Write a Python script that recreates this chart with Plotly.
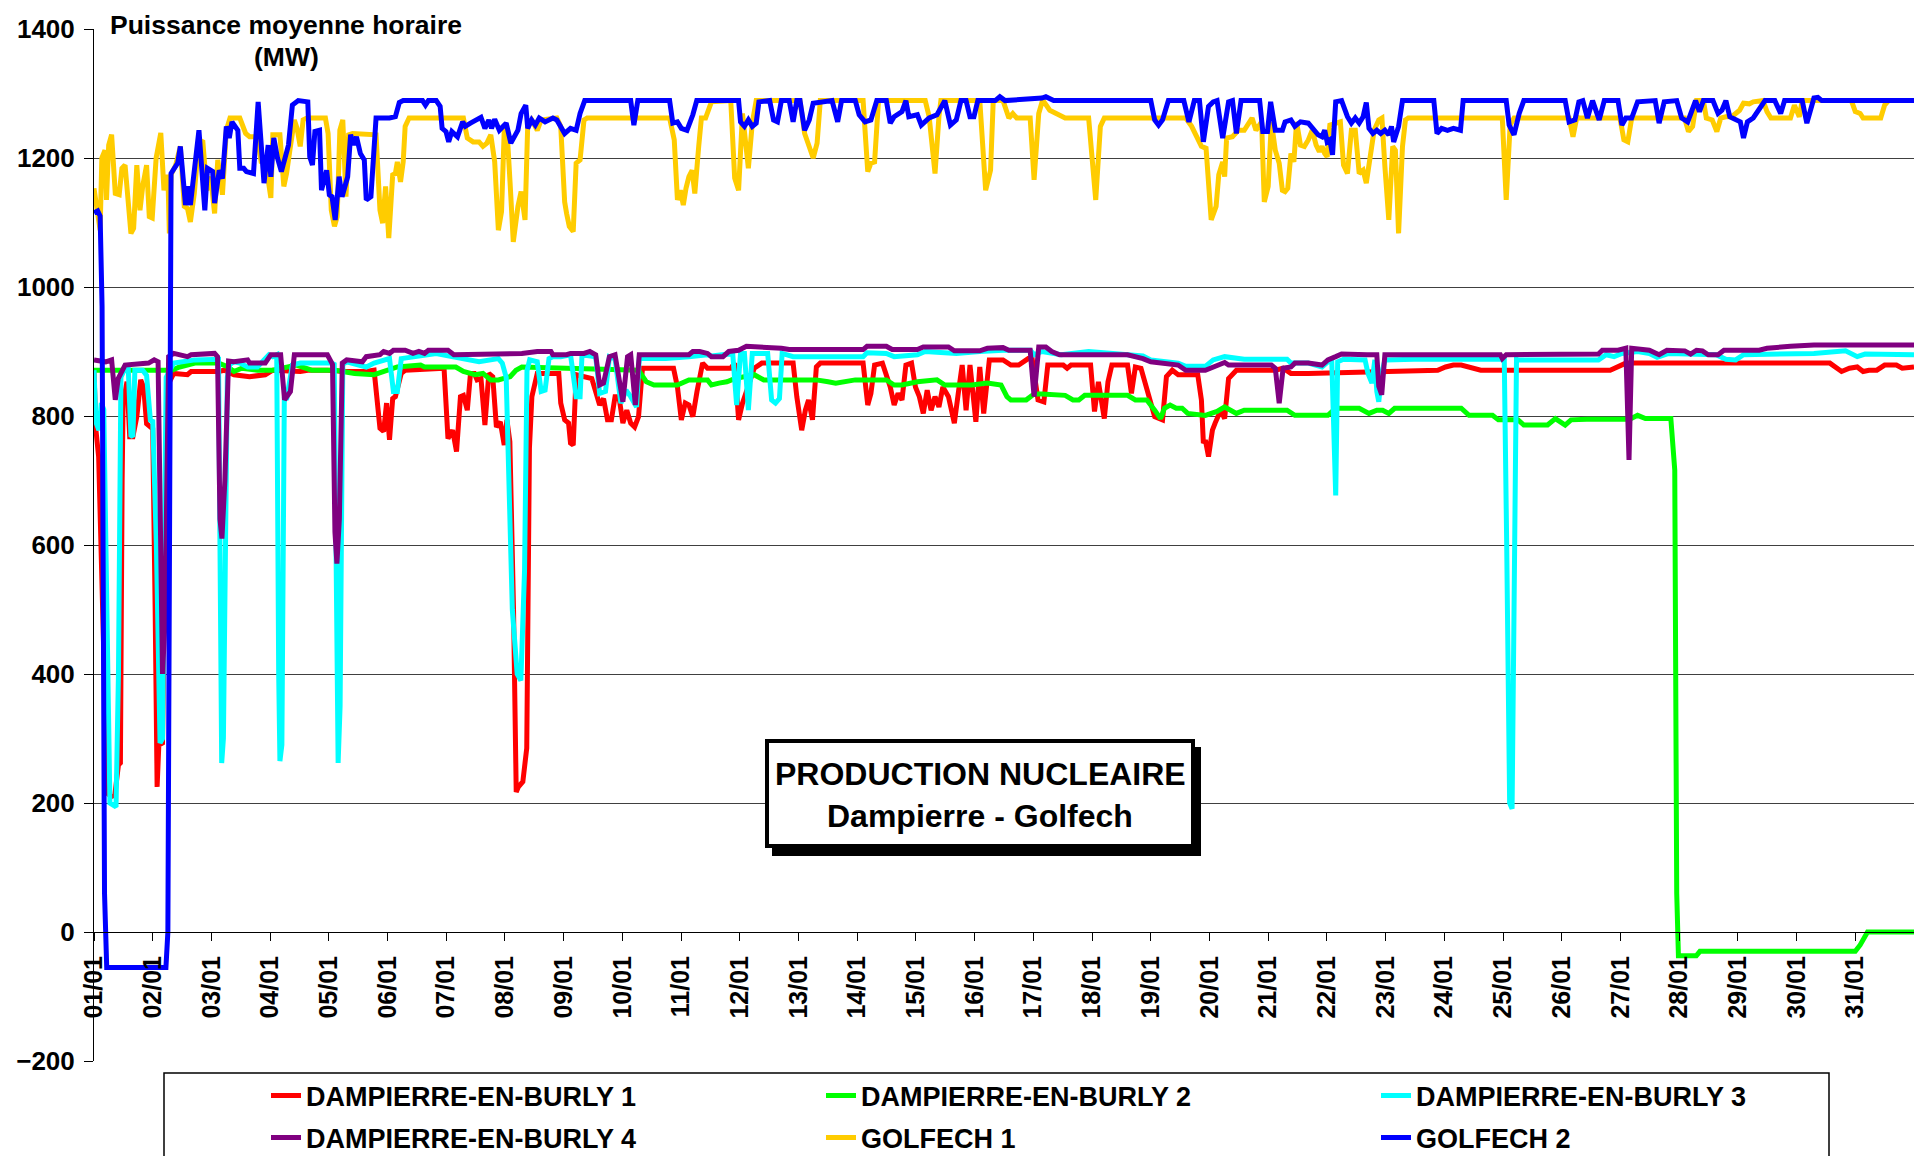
import plotly.graph_objects as go

# ---------------- data (hours since 01/01 00:00, MW) ----------------
day_labels = ["%02d/01" % d for d in range(1, 32)]
day_hours = [24 * i for i in range(31)]

d1_h = [0, 0.8, 1.9, 3.5, 5.5, 7.0, 8.5, 10.0, 10.8, 11.5, 11.9, 13.5, 14.6, 15.9, 17.5, 19.1, 20.3, 21.5, 23.1, 24.0,
        25.0, 25.8, 26.5, 28.0, 29.5, 30.5, 32.6, 38.2, 39.7, 50.9, 53.3, 57.2, 63.6, 70.0, 73.1, 84.3, 87.4, 95.4, 103.3,
        111.3, 114.5, 115.7, 116.9, 118.4, 119.6, 120.8, 122.1, 123.2, 125.6, 127.2, 143.1, 144.7, 146.6, 148.2, 149.8,
        151.0, 152.6, 153.9, 155.5, 156.6, 158.2, 159.8, 161.4, 163.0, 164.5, 166.1, 167.7, 168.8, 170.0, 171.5, 172.6,
        173.5, 175.3, 176.9, 178.0, 179.0, 181.2, 190.0, 190.8, 192.4, 194.0, 194.8, 195.9, 197.1, 200.3, 203.5, 206.7,
        208.3, 209.9, 211.5, 213.0, 214.6, 216.2, 217.8, 219.4, 221.0, 222.6, 224.2, 236.9, 238.5, 240.1, 241.7, 243.2,
        244.8, 246.5, 248.8, 250.8, 260.3, 261.9, 263.5, 265.1, 267.5, 269.9, 273.0, 285.8, 287.3, 289.3, 290.8, 292.1,
        293.7, 295.3, 296.9, 314.4, 316.3, 317.6, 319.1, 322.3, 325.5, 327.1, 328.7, 330.3, 331.9, 334.2, 335.8, 337.4,
        339.0, 340.6, 342.2, 343.8, 345.4, 347.0, 349.3, 351.7, 353.3, 354.9, 356.5, 358.1, 360.5, 362.1, 363.7, 366.0,
        371.6, 374.8, 378.0, 381.9, 383.5, 385.9, 388.3, 389.9, 396.2, 397.8, 399.4, 407.4, 409.0, 410.6, 413.0, 414.5,
        416.1, 422.5, 424.1, 425.7, 428.0, 429.6, 431.2, 433.6, 436.8, 438.4, 440.8, 443.2, 451.2, 452.7, 453.5, 454.3,
        455.6, 457.2, 458.3, 460.6, 462.2, 463.8, 467.0, 482.9, 486.1, 489.3, 496.4, 542.9, 549.3, 552.5, 555.7, 558.9,
        562.1, 566.9, 619.8, 623.0, 626.2, 709.6, 714.4, 717.6, 720.8, 723.2, 725.6, 728.8, 732.0, 736.8, 739.2, 744]
d1_mw = [869, 778, 737, 500, 215, 210, 212, 259, 262, 700, 820, 853, 768, 768, 799, 856, 845, 788, 783, 780,
         500, 225, 290, 293, 700, 850, 866, 864, 869, 869, 871, 864, 861, 864, 871, 869, 871, 871, 869,
         869, 871, 820, 781, 776, 820, 763, 827, 830, 866, 871, 874, 765, 778, 745, 830,
         832, 809, 866, 866, 856, 858, 786, 866, 861, 783, 791, 755, 794, 760, 500, 217,
         225, 233, 285, 750, 830, 866, 866, 820, 794, 789, 758, 755, 864, 861, 858, 817,
         827, 794, 794, 830, 830, 789, 809, 789, 783, 799, 874, 874, 845, 794, 820, 817,
         799, 838, 882, 874, 874, 882, 794, 820, 845, 874, 882, 882, 830, 778, 809, 825,
         794, 876, 882, 882, 817, 835, 879, 882, 845, 817, 835, 825, 879, 882, 845, 830,
         804, 840, 809, 830, 814, 845, 830, 789, 835, 879, 809, 879, 791, 876, 804, 887,
         887, 879, 879, 889, 889, 825, 822, 879, 879, 874, 879, 879, 807, 853, 796, 853,
         879, 879, 835, 876, 874, 851, 827, 799, 794, 861, 871, 864, 864, 825, 758, 763,
         737, 778, 789, 809, 796, 858, 871, 871, 874, 866, 866, 871, 871, 876, 879, 879,
         876, 871, 871, 876, 882, 882, 869, 874, 876, 869, 871, 871, 879, 879, 874, 876]

d2_h = [0, 31.8, 35.0, 41.3, 50.9, 54.8, 57.2, 60.4, 66.8, 73.1, 82.7, 89.0, 98.6, 106.5, 114.5, 124.0, 133.5, 135.1,
        147.9, 151.0, 155.8, 159.0, 162.2, 165.3, 170.1, 172.5, 174.9, 222.6, 225.8, 228.9, 238.5, 243.2, 250.8, 252.4,
        255.5, 258.7, 261.9, 269.9, 273.8, 295.3, 300.1, 303.2, 311.2, 323.9, 327.1, 330.3, 336.6, 344.6, 347.8, 358.9,
        365.2, 370.8, 373.2, 374.8, 381.1, 384.3, 387.5, 397.0, 400.2, 402.6, 405.0, 422.5, 425.7, 430.4, 433.6, 436.0,
        437.6, 439.9, 442.4, 444.8, 447.1, 454.3, 459.1, 462.2, 464.6, 467.0, 470.2, 487.7, 490.9, 504.4, 507.6, 517.2,
        521.2, 524.4, 526.8, 529.3, 531.7, 558.9, 562.1, 571.7, 574.1, 582.1, 584.5, 594.2, 597.4, 599.8, 601.4, 603.8,
        610.2, 627.8, 631.0, 634.2, 644.6, 646.2, 647.0, 647.7, 655.0, 656.5, 720.0, 722.0, 725.0, 744]
d2_mw = [871, 871, 876, 882, 882, 876, 869, 874, 871, 871, 879, 871, 871, 866, 864, 876, 879, 876,
         876, 869, 864, 866, 856, 856, 861, 871, 876, 871, 853, 848, 848, 856, 856, 848,
         851, 853, 858, 864, 856, 856, 853, 851, 856, 856, 848, 848, 853, 856, 848, 848,
         851, 848, 830, 825, 825, 834, 834, 832, 825, 825, 832, 832, 825, 825, 809, 796,
         812, 817, 812, 812, 804, 801, 807, 814, 809, 804, 809, 809, 801, 801, 812, 812,
         804, 809, 809, 804, 812, 812, 801, 801, 794, 794, 786, 786, 796, 791, 786, 794,
         795, 795, 801, 796, 796, 716, 60, -37, -37, -30, -30, -20, 0, 0]

d3_h = [0, 0.8, 2.0, 3.0, 4.0, 5.5, 6.5, 9.0, 10.0, 11.0, 12.7, 14.0, 15.1, 15.9, 16.7, 19.9, 21.5, 23.1, 24.0, 25.5,
        27.0, 28.0, 29.5, 31.0, 32.6, 41.3, 50.9, 51.5, 52.2, 52.9, 54.5, 55.5, 57.2, 59.6, 62.8, 66.8, 71.5, 73.1, 74.7,
        75.5, 76.0, 76.8, 77.8, 78.7, 81.1, 84.3, 97.0, 98.2, 99.0, 99.8, 100.6, 101.7, 103.3, 111.3, 114.5, 120.8, 122.4,
        124.0, 125.6, 130.4, 139.9, 146.3, 157.4, 165.3, 166.9, 168.5, 171.0, 173.0, 174.5, 176.0, 177.0, 178.1, 181.2,
        182.8, 184.4, 186.0, 187.6, 190.8, 193.2, 194.8, 197.1, 198.7, 199.5, 205.1, 206.7, 209.1, 210.7, 213.0, 215.4,
        217.5, 219.4, 221.8, 222.9, 233.7, 243.2, 250.8, 252.4, 257.1, 261.1, 262.7, 264.3, 265.9, 267.5, 269.1, 275.4,
        277.0, 278.6, 280.2, 281.3, 285.8, 314.4, 316.0, 323.9, 327.1, 336.6, 339.8, 349.3, 352.5, 362.1, 371.6, 382.7,
        384.3, 387.5, 395.4, 406.6, 412.9, 422.5, 428.8, 432.0, 443.2, 446.3, 454.3, 457.5, 462.2, 470.2, 487.7, 489.3,
        496.4, 502.0, 504.4, 506.0, 507.6, 508.4, 510.8, 519.6, 520.8, 522.4, 523.6, 524.4, 525.2, 526.4, 527.7, 539.7,
        558.9, 574.9, 576.5, 577.5, 578.7, 579.7, 580.5, 581.5, 582.1, 615.0, 618.2, 621.4, 624.6, 631.0, 635.8, 639.0,
        643.8, 663.1, 667.1, 671.1, 674.3, 703.1, 716.0, 720.8, 724.0, 744]
d3_mw = [871, 790, 778, 820, 810, 400, 200, 194, 400, 860, 874, 874, 770, 768, 871, 871, 863, 791, 794, 600,
         293, 300, 860, 871, 882, 887, 888, 600, 262, 300, 860, 880, 884, 882, 876, 876, 895, 892, 895,
         400, 265, 290, 830, 825, 879, 882, 882, 880, 500, 262, 350, 880, 884, 876, 882, 889, 838,
         838, 889, 892, 897, 892, 884, 889, 882, 860, 500, 400, 390, 560, 870, 887, 884,
         838, 840, 889, 892, 892, 895, 895, 830, 830, 895, 892, 835, 838, 892, 889, 820,
         840, 830, 814, 889, 889, 892, 895, 893, 895, 897, 817, 897, 897, 809, 897, 897,
         825, 820, 827, 897, 892, 892, 898, 897, 892, 895, 900, 898, 897, 900, 902, 902,
         895, 900, 895, 900, 898, 895, 893, 887, 882, 877, 877, 887, 892, 888, 888, 882,
         882, 876, 884, 884, 677, 884, 888, 887, 866, 851, 887, 838, 822, 866, 887, 888,
         887, 888, 888, 600, 200, 191, 500, 888, 887, 887, 895, 892, 897, 900, 897, 891,
         897, 895, 888, 887, 895, 897, 901, 892, 896, 895]

d4_h = [0, 4.8, 7.2, 8.7, 9.9, 12.7, 22.3, 24.6, 26.2, 27.3, 28.0, 29.0, 30.5, 32.6, 38.2, 39.7, 49.3, 50.5, 51.5, 52.3,
        53.5, 55.0, 57.2, 62.8, 63.6, 70.0, 72.3, 76.3, 77.9, 80.3, 81.9, 95.4, 97.5, 98.5, 99.3, 100.3, 101.5, 103.3,
        109.7, 111.3, 116.9, 118.4, 120.8, 122.4, 127.2, 130.4, 132.8, 135.1, 136.7, 144.7, 147.1, 174.9, 181.2, 186.8,
        187.6, 193.2, 194.8, 200.3, 202.7, 205.1, 206.7, 208.3, 210.7, 213.0, 216.2, 218.1, 219.4, 221.3, 222.9, 243.2,
        244.8, 247.6, 250.8, 252.4, 257.1, 259.5, 263.5, 266.7, 276.2, 281.0, 284.2, 314.4, 316.0, 323.9, 326.3, 336.6,
        339.0, 349.3, 351.7, 362.1, 365.2, 371.6, 374.0, 382.7, 384.3, 386.2, 389.1, 391.5, 394.7, 422.5, 428.8, 432.0,
        443.2, 446.3, 454.3, 457.5, 462.2, 463.8, 481.3, 482.9, 484.5, 486.1, 489.3, 490.9, 496.4, 502.0, 504.4, 507.6,
        510.0, 520.4, 524.4, 525.2, 526.4, 527.7, 552.5, 574.9, 575.7, 577.3, 615.0, 616.6, 623.0, 626.2, 627.5, 628.6,
        635.8, 639.8, 643.0, 650.3, 652.7, 655.1, 657.5, 659.9, 663.9, 666.3, 680.7, 683.9, 693.5, 703.1, 744]
d4_mw = [887, 884, 887, 825, 858, 879, 882, 887, 884, 600, 400, 480, 892, 897, 892, 895, 897, 892, 640, 610,
         700, 885, 884, 887, 882, 882, 895, 895, 825, 838, 895, 895, 880, 620, 571, 640, 882, 887,
         884, 892, 895, 900, 897, 902, 902, 897, 900, 897, 902, 902, 895, 897, 900, 900,
         895, 895, 897, 897, 900, 895, 848, 851, 892, 895, 822, 892, 895, 817, 895, 895,
         900, 900, 897, 892, 892, 900, 902, 908, 907, 905, 903, 903, 908, 908, 903, 903,
         907, 907, 901, 901, 905, 906, 902, 902, 830, 907, 907, 900, 895, 895, 889, 884,
         879, 871, 871, 876, 883, 879, 879, 874, 820, 874, 876, 882, 882, 879, 887, 892,
         896, 895, 895, 846, 833, 895, 896, 895, 889, 895, 896, 902, 902, 905, 732, 905,
         902, 895, 902, 901, 896, 902, 901, 895, 895, 902, 902, 905, 908, 910, 910]

g1_h = [0, 1.6, 2.5, 3.2, 4.5, 5.1, 6.0, 7.2, 8.7, 10.3, 11.4, 12.7, 13.5, 15.1, 16.2, 17.5, 18.8, 19.9, 21.5, 22.6,
        23.8, 25.4, 27.3, 28.6, 30.2, 30.8, 31.5, 33.4, 35.3, 36.9, 38.2, 39.4, 41.0, 42.9, 44.5, 46.1, 47.7, 49.3, 50.6,
        52.5, 54.1, 55.6, 59.6, 62.0, 63.6, 66.0, 67.1, 68.4, 70.0, 71.2, 72.3, 73.1, 76.0, 77.6, 78.7, 80.3, 81.9, 83.0,
        84.3, 85.5, 87.1, 94.6, 95.7, 97.0, 98.3, 99.4, 100.5, 101.7, 103.0, 104.1, 105.7, 115.3, 116.9, 118.0, 119.2,
        120.5, 122.1, 123.2, 124.0, 125.3, 126.4, 127.2, 128.8, 151.0, 152.6, 155.0, 157.4, 159.0, 160.6, 162.2, 163.8,
        165.3, 166.6, 167.7, 168.8, 170.1, 171.4, 173.3, 174.6, 176.2, 177.3, 178.9, 181.2, 182.8, 189.2, 190.8, 192.4,
        193.2, 194.3, 195.9, 197.1, 198.7, 200.3, 201.6, 235.3, 237.2, 238.5, 239.7, 240.9, 242.0, 243.2, 244.5, 245.6,
        247.2, 248.3, 250.0, 252.4, 260.3, 261.9, 263.5, 265.1, 267.5, 269.1, 270.7, 288.6, 290.5, 294.0, 295.6, 296.9,
        314.4, 316.3, 317.6, 319.1, 320.7, 339.8, 341.4, 343.8, 345.4, 346.2, 362.1, 364.5, 366.5, 367.6, 371.6, 374.0,
        375.6, 377.2, 382.7, 384.3, 386.2, 387.8, 390.7, 393.9, 397.0, 406.6, 408.2, 409.5, 411.4, 413.0, 446.3, 448.7,
        452.7, 454.6, 456.7, 458.7, 459.8, 461.4, 462.2, 463.0, 465.4, 467.8, 470.2, 473.4, 475.0, 477.3, 478.4, 480.0,
        481.3, 482.9, 484.5, 485.8, 486.9, 488.0, 489.3, 490.5, 491.6, 493.2, 494.8, 496.4, 498.0, 499.6, 500.9, 502.0,
        503.1, 504.1, 505.2, 507.6, 509.5, 510.8, 512.4, 514.0, 515.6, 517.2, 518.8, 520.1, 521.7, 523.3, 525.2, 526.5,
        527.7, 529.3, 530.9, 532.0, 533.3, 534.9, 536.1, 537.3, 575.7, 577.3, 578.9, 580.5, 603.0, 604.6, 606.2, 607.0,
        623.8, 625.4, 627.0, 628.6, 650.2, 651.8, 653.5, 655.1, 657.9, 659.1, 661.5, 663.4, 665.0, 667.1, 669.5, 671.1,
        672.7, 674.3, 676.7, 678.3, 682.3, 683.9, 685.5, 693.5, 695.1, 697.1, 698.3, 718.4, 720.0, 722.0, 723.2, 730.4,
        732.0, 733.6, 744]
g1_mw = [1153, 1114, 1088, 1200, 1212, 1135, 1220, 1236, 1145, 1143, 1184, 1189, 1156, 1083, 1091, 1189, 1119, 1156, 1189, 1109,
         1107, 1200, 1239, 1150, 1174, 1083, 1174, 1189, 1218, 1125, 1122, 1101, 1145, 1228, 1225, 1150, 1171, 1114, 1197,
         1143, 1243, 1262, 1262, 1238, 1233, 1233, 1225, 1192, 1197, 1166, 1138, 1236, 1236, 1156, 1176, 1218, 1259, 1246,
         1218, 1259, 1262, 1262, 1238, 1119, 1094, 1109, 1243, 1259, 1140, 1236, 1238, 1236, 1119, 1099, 1156,
         1076, 1174, 1176, 1194, 1163, 1194, 1249, 1262, 1262, 1231, 1225, 1225, 1218, 1223, 1236, 1194,
         1088, 1117, 1243, 1246, 1161, 1070, 1125, 1148, 1104, 1251, 1259, 1243, 1259, 1262, 1249, 1132,
         1114, 1094, 1086, 1192, 1197, 1259, 1262, 1262, 1228, 1135, 1150, 1127, 1153, 1171, 1181, 1145,
         1218, 1262, 1262, 1287, 1289, 1169, 1150, 1269, 1184, 1254, 1289, 1289, 1238, 1200, 1223, 1289,
         1289, 1179, 1192, 1194, 1289, 1289, 1264, 1176, 1264, 1289, 1289, 1150, 1181, 1289, 1289, 1262,
         1269, 1262, 1262, 1166, 1269, 1290, 1274, 1267, 1262, 1262, 1202, 1135, 1249, 1262, 1262, 1249,
         1218, 1215, 1104, 1125, 1174, 1194, 1171, 1231, 1233, 1243, 1243, 1262, 1243, 1256, 1132, 1156,
         1256, 1212, 1192, 1150, 1148, 1153, 1207, 1194, 1256, 1220, 1218, 1228, 1243, 1220, 1210, 1218,
         1207, 1202, 1251, 1254, 1256, 1189, 1176, 1243, 1243, 1176, 1181, 1161, 1202, 1243, 1259, 1262,
         1187, 1104, 1218, 1212, 1083, 1218, 1259, 1262, 1262, 1135, 1251, 1262, 1262, 1233, 1264, 1262,
         1262, 1228, 1225, 1262, 1262, 1241, 1249, 1289, 1289, 1262, 1259, 1241, 1262, 1264, 1264, 1269,
         1274, 1285, 1284, 1287, 1289, 1272, 1262, 1262, 1282, 1264, 1289, 1289, 1272, 1269, 1262, 1262,
         1282, 1289, 1289]

g2_h = [0, 1.5, 2.5, 3.0, 3.3, 4.3, 5.2, 29.4, 30.2, 31.5, 34.2, 35.3, 37.4, 38.5, 39.4, 42.9, 45.3, 46.4, 48.5, 49.3,
        51.2, 52.5, 54.1, 55.3, 56.4, 58.8, 59.6, 61.2, 62.3, 65.2, 67.1, 69.5, 71.2, 72.3, 73.5, 75.0, 76.6, 79.5, 81.1,
        83.5, 87.4, 88.2, 89.3, 90.3, 92.2, 93.0, 95.1, 96.2, 97.3, 98.6, 100.2, 101.4, 103.7, 104.9, 106.2, 107.3, 108.9,
        110.5, 111.3, 113.2, 115.3, 120.8, 123.2, 124.8, 126.4, 134.3, 135.5, 136.7, 139.9, 141.5, 142.3, 143.9, 145.0,
        146.3, 148.6, 150.7, 151.8, 153.9, 156.6, 158.2, 159.8, 161.4, 162.5, 163.8, 165.7, 168.5, 170.4, 173.3, 174.6,
        176.5, 177.3, 178.9, 180.4, 182.0, 184.4, 187.6, 189.2, 192.4, 194.8, 197.1, 198.7, 200.6, 219.4, 220.7, 222.3,
        235.3, 236.6, 238.5, 240.1, 242.4, 244.8, 246.4, 263.5, 264.3, 265.9, 267.5, 269.1, 270.7, 271.8, 276.2, 277.8,
        279.4, 281.0, 284.2, 285.8, 287.3, 288.6, 290.5, 292.4, 294.0, 301.7, 304.0, 305.6, 311.2, 312.8, 315.2, 317.6,
        320.0, 323.9, 325.5, 327.1, 330.3, 331.9, 333.1, 336.6, 338.2, 341.4, 344.6, 347.8, 350.1, 352.5, 354.4, 356.5,
        358.1, 359.7, 361.3, 368.4, 370.3, 372.4, 379.6, 387.5, 389.1, 392.3, 432.0, 433.6, 435.2, 436.8, 439.2, 445.5,
        447.6, 449.8, 451.9, 453.5, 455.6, 457.5, 459.1, 461.4, 463.8, 465.4, 467.0, 468.9, 476.5, 477.8, 479.7, 481.0,
        482.9, 485.8, 486.9, 489.3, 490.9, 493.2, 496.4, 498.0, 500.4, 502.0, 503.1, 504.1, 505.2, 506.3, 507.6, 510.0,
        512.4, 514.0, 515.6, 517.2, 518.8, 520.1, 521.2, 522.8, 524.4, 526.0, 527.7, 529.3, 530.4, 531.3, 533.3, 534.9,
        547.7, 549.0, 550.9, 553.3, 555.7, 558.6, 559.7, 577.3, 578.5, 580.5, 582.6, 584.5, 601.4, 603.0, 605.4, 607.0,
        608.6, 610.5, 612.6, 615.3, 617.4, 623.0, 624.6, 626.2, 628.6, 631.0, 638.2, 639.8, 641.9, 647.0, 649.0, 651.5,
        654.7, 656.3, 657.9, 661.8, 663.9, 665.5, 667.1, 668.7, 671.1, 673.0, 674.3, 675.9, 678.3, 680.7, 683.1, 687.1,
        689.5, 691.1, 698.3, 700.2, 703.1, 704.7, 706.3, 744]
g2_mw = [1115, 1118, 1110, 1000, 970, 60, -55, -55, 0, 1176, 1192, 1218, 1127, 1156, 1127, 1243, 1119, 1184, 1179, 1130,
         1181, 1168, 1249, 1231, 1256, 1243, 1184, 1184, 1179, 1176, 1287, 1161, 1220, 1171, 1231, 1200, 1179, 1220, 1282,
         1289, 1287, 1202, 1189, 1241, 1243, 1150, 1181, 1143, 1140, 1104, 1171, 1140, 1171, 1236, 1220, 1233, 1207,
         1197, 1135, 1140, 1262, 1262, 1264, 1286, 1289, 1289, 1282, 1289, 1289, 1280, 1246, 1241, 1225,
         1241, 1233, 1256, 1249, 1254, 1259, 1263, 1246, 1259, 1246, 1260, 1243, 1254, 1223, 1243, 1269,
         1282, 1246, 1259, 1251, 1262, 1256, 1262, 1259, 1238, 1246, 1243, 1269, 1289, 1289, 1251, 1289,
         1289, 1254, 1256, 1246, 1243, 1267, 1289, 1289, 1256, 1249, 1259, 1249, 1254, 1287, 1289, 1259,
         1256, 1289, 1289, 1256, 1289, 1289, 1243, 1259, 1285, 1289, 1256, 1289, 1289, 1267, 1256, 1259,
         1289, 1289, 1254, 1264, 1272, 1289, 1264, 1267, 1251, 1262, 1267, 1289, 1251, 1259, 1289, 1289,
         1264, 1264, 1289, 1289, 1295, 1289, 1290, 1293, 1295, 1289, 1289, 1259, 1251, 1259, 1289, 1289,
         1256, 1289, 1289, 1225, 1280, 1287, 1289, 1231, 1287, 1289, 1238, 1289, 1289, 1241, 1241, 1287,
         1243, 1243, 1256, 1259, 1249, 1256, 1254, 1246, 1236, 1233, 1243, 1225, 1228, 1205, 1287, 1289,
         1264, 1254, 1262, 1254, 1264, 1286, 1246, 1238, 1243, 1238, 1243, 1236, 1249, 1225, 1249, 1289,
         1289, 1238, 1246, 1243, 1246, 1243, 1289, 1289, 1251, 1236, 1269, 1289, 1289, 1256, 1259, 1287,
         1289, 1262, 1289, 1259, 1289, 1289, 1251, 1262, 1262, 1287, 1289, 1254, 1287, 1289, 1262, 1256,
         1289, 1272, 1289, 1289, 1269, 1274, 1289, 1264, 1259, 1256, 1231, 1256, 1262, 1274, 1289, 1289,
         1269, 1289, 1289, 1254, 1293, 1294, 1289, 1289]

series = [
    ("DAMPIERRE-EN-BURLY 1", d1_h, d1_mw, "#FF0000", "legend"),
    ("DAMPIERRE-EN-BURLY 2", d2_h, d2_mw, "#00FF00", "legend"),
    ("DAMPIERRE-EN-BURLY 3", d3_h, d3_mw, "#00FFFF", "legend"),
    ("DAMPIERRE-EN-BURLY 4", d4_h, d4_mw, "#800080", "legend2"),
    ("GOLFECH 1", g1_h, g1_mw, "#FFCC00", "legend2"),
    ("GOLFECH 2", g2_h, g2_mw, "#0000FF", "legend2"),
]

FONT = "Liberation Sans, Arial, sans-serif"

fig = go.Figure()
for name, xs, ys, col, lg in series:
    fig.add_trace(go.Scatter(x=xs, y=ys, mode="lines", name=name, legend=lg,
                             line=dict(color=col, width=5, shape="linear")))

# page pixel helpers (page has an 8px body margin; plot area page x 94..1914, y 29..1061)
def px_x(p):
    return (p - 94) / 1820.0

def px_y(p):
    return (1061 - p) / 1032.0

legend_common = dict(orientation="h", entrywidth=510, entrywidthmode="pixels",
                     font=dict(family=FONT, size=27, color="black", weight="bold"),
                     bgcolor="rgba(0,0,0,0)", borderwidth=0, xanchor="left", yanchor="middle",
                     itemwidth=30, traceorder="normal")

fig.update_layout(
    width=1906, height=1148,
    margin=dict(l=86, r=0, t=21, b=95, autoexpand=False),
    paper_bgcolor="white", plot_bgcolor="white",
    font=dict(family=FONT, color="black"),
    showlegend=True,
    legend=dict(x=px_x(266), y=px_y(1096), **legend_common),
    legend2=dict(x=px_x(266), y=px_y(1138), **legend_common),
    xaxis=dict(range=[0, 744], tickmode="array", tickvals=day_hours, ticktext=day_labels,
               tickangle=-90, ticks="outside", ticklen=8, tickcolor="black", tickwidth=1,
               showline=True, linecolor="black", linewidth=1, showgrid=False, zeroline=False,
               anchor="free", position=0.125, ticklabelstandoff=5,
               tickfont=dict(family=FONT, size=25, color="black", weight="bold")),
    yaxis=dict(range=[-200, 1400], dtick=200, tick0=0, ticks="outside", ticklen=9, tickcolor="black",
               showline=True, linecolor="black", linewidth=1, showgrid=True, gridcolor="#404040",
               gridwidth=1, zeroline=False, ticklabelstandoff=4,
               tickfont=dict(family=FONT, size=26, color="black", weight="bold")),
)

shapes = [
    # legend frame
    dict(type="rect", xref="paper", yref="paper", x0=px_x(164), x1=px_x(1829), y0=px_y(1175), y1=px_y(1073),
         line=dict(color="black", width=1.5), fillcolor="rgba(0,0,0,0)", layer="above"),
    # annotation box shadow
    dict(type="rect", xref="paper", yref="paper", x0=px_x(772), x1=px_x(1201), y0=px_y(856), y1=px_y(747),
         line=dict(width=0), fillcolor="black", layer="above"),
    # annotation box
    dict(type="rect", xref="paper", yref="paper", x0=px_x(767), x1=px_x(1193), y0=px_y(846), y1=px_y(741),
         line=dict(color="black", width=4), fillcolor="white", layer="above"),
]
fig.update_layout(shapes=shapes)

fig.add_annotation(xref="paper", yref="paper", x=px_x(286), y=px_y(25), xanchor="center", yanchor="middle",
                   text="Puissance moyenne horaire", showarrow=False, bgcolor="white", borderpad=1,
                   font=dict(family=FONT, size=26.5, color="black", weight="bold"))
fig.add_annotation(xref="paper", yref="paper", x=px_x(286), y=px_y(57), xanchor="center", yanchor="middle",
                   text="(MW)", showarrow=False,
                   font=dict(family=FONT, size=26.5, color="black", weight="bold"))
fig.add_annotation(xref="paper", yref="paper", x=px_x(980), y=px_y(774), xanchor="center", yanchor="middle",
                   text="PRODUCTION NUCLEAIRE", showarrow=False,
                   font=dict(family=FONT, size=32, color="black", weight="bold"))
fig.add_annotation(xref="paper", yref="paper", x=px_x(980), y=px_y(816), xanchor="center", yanchor="middle",
                   text="Dampierre - Golfech", showarrow=False,
                   font=dict(family=FONT, size=32, color="black", weight="bold"))

fig.write_html("out.html")
